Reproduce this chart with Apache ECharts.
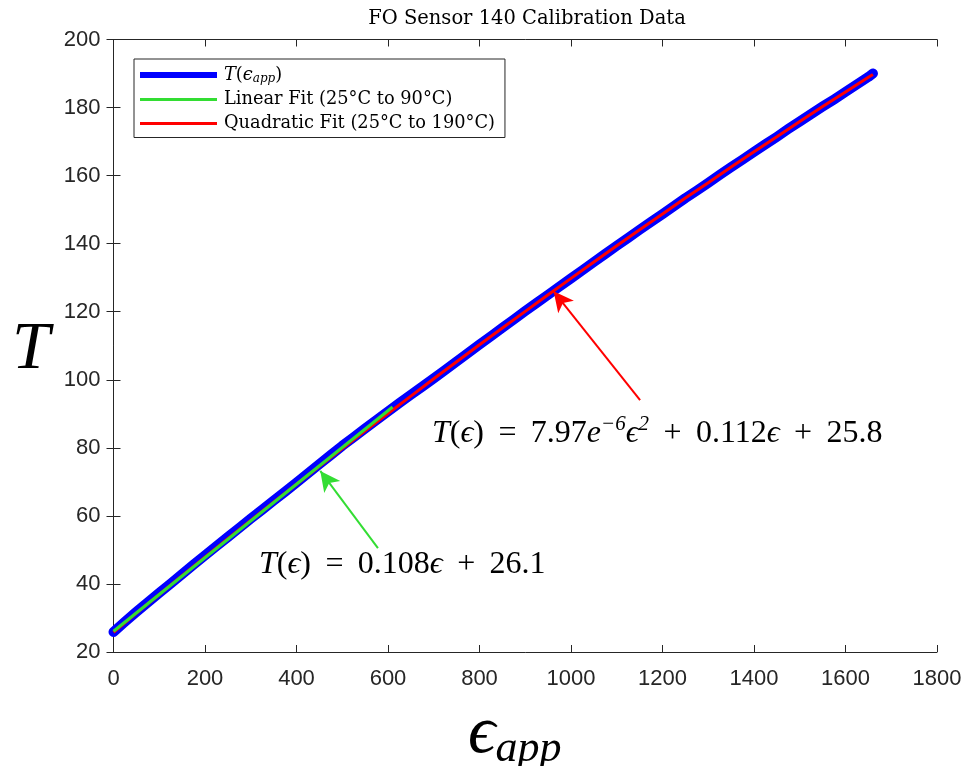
<!DOCTYPE html>
<html><head><meta charset="utf-8">
<script src="https://cdn.jsdelivr.net/npm/echarts@6/dist/echarts.min.js"></script>
<style>html,body{margin:0;padding:0;background:#fff}#c{width:966px;height:766px}</style>
</head><body><div id="c"></div>
<script>
// Measured data T(eps_app)
const epsData = [0,25,50,75,100,125,150,175,200,225,250,275,300,325,350,375,400,425,450,475,500,525,550,575,600,625,650,675,700,725,750,775,800,825,850,875,900,925,950,975,1000,1025,1050,1075,1100,1125,1150,1175,1200,1225,1250,1275,1300,1325,1350,1375,1400,1425,1450,1475,1500,1525,1550,1575,1600,1625,1650,1660];
const tData = [25.9,28.9,31.8,34.6,37.4,40.1,42.9,45.7,48.4,51.1,53.8,56.5,59.2,61.8,64.5,67.1,69.8,72.5,75.2,77.9,80.6,83.1,85.7,88.2,90.7,93.2,95.6,98.0,100.4,102.9,105.4,107.9,110.4,112.8,115.3,117.7,120.2,122.6,125.0,127.4,129.8,132.2,134.6,137.0,139.4,141.7,144.1,146.4,148.7,151.0,153.4,155.6,157.9,160.2,162.5,164.7,167.0,169.2,171.4,173.7,175.9,178.1,180.3,182.4,184.6,186.8,189.0,190.0];
// Linear fit (25°C to 90°C)
const linEps = [0, 610];
const linT = [26.1, 92.0];
// Quadratic fit (25°C to 190°C)
const quadEps = [0,50,100,150,200,250,300,350,400,450,500,550,600,650,700,750,800,850,900,950,1000,1050,1100,1150,1200,1250,1300,1350,1400,1450,1500,1550,1600,1650,1660];
const quadT = [25.8,31.4,36.9,42.4,47.9,53.3,58.7,64.0,69.3,74.6,79.8,85.0,90.1,95.2,100.3,105.3,110.3,115.2,120.1,125.0,129.8,134.6,139.4,144.1,148.7,153.4,157.9,162.5,167.0,171.4,175.9,180.3,184.6,188.9,189.7];
// Arrows (data coords: [from, to])
const redArrow = [[1151, 94.0], [962, 126.0]];
const greenArrow = [[578, 50.5], [452, 73.2]];
// Axis ticks
const xTicks = {min: 0, max: 1800, interval: 200};
const yTicks = {min: 20, max: 200, interval: 20};
const titleText = 'FO Sensor 140 Calibration Data';
const legendNames = ['T(ϵapp)', 'Linear Fit (25°C to 90°C)', 'Quadratic Fit (25°C to 190°C)'];

const pairs = (xs, ys) => xs.map((x, i) => [x, ys[i]]);
const arrowLine = (a, color) => ({
  silent: true, symbol: ['none', 'arrow'], symbolSize: [15, 20], animation: false,
  label: {show: false}, emphasis: {disabled: true},
  lineStyle: {color: color, width: 2, type: 'solid', opacity: 1},
  data: [[{coord: a[0]}, {coord: a[1]}]]
});
const serif = 'Liberation Serif';
const dserif = 'DejaVu Serif';
const axCol = '#262626';
const hs = ' \u2009';
const chart = echarts.init(document.getElementById('c'), null, {renderer: 'canvas'});
const baseAxis = {
  axisLine: {show: true, lineStyle: {color: axCol, width: 1}},
  axisTick: {show: true, inside: true, length: 7, lineStyle: {color: axCol}},
  splitLine: {show: false}
};
chart.setOption({
  animation: false,
  backgroundColor: '#fff',
  title: {text: titleText, left: 522, textAlign: 'center', top: 4,
    textStyle: {fontFamily: dserif, fontSize: 19.5, fontWeight: 'normal', color: '#000'}},
  grid: {left: 113.5, right: 29, top: 39.5, bottom: 114, outerBoundsMode: 'none', containLabel: false},
  legend: {
    orient: 'vertical', left: 134, top: 59, itemWidth: 77, itemHeight: 10, itemGap: 6,
    padding: [7, 10, 5, 6], borderColor: axCol, borderWidth: 1, backgroundColor: '#fff',
    symbolKeepAspect: true,
    data: [
      {name: legendNames[0], icon: 'path://M0,0H77V6H0Z', itemStyle: {color: '#0000ff'}},
      {name: legendNames[1], icon: 'path://M0,0H77V3H0Z', itemStyle: {color: '#33dd33'}},
      {name: legendNames[2], icon: 'path://M0,0H77V3H0Z', itemStyle: {color: '#ff0000'}}
    ],
    formatter: n => n === legendNames[0] ? '{i|T}{n|(}{i|ϵ}{s|app}{n|)}' : '{n|' + n + '}',
    textStyle: {fontFamily: dserif, fontSize: 17.8, color: '#000', padding: [0, 0, 0, 2],
      rich: {n: {fontFamily: dserif, fontSize: 17.8, color: '#000'},
             i: {fontFamily: dserif, fontStyle: 'italic', fontSize: 17.8, color: '#000'},
             s: {fontFamily: dserif, fontStyle: 'italic', fontSize: 12, color: '#000', padding: [7, 0, 0, 0]}}}
  },
  xAxis: [
    Object.assign({}, baseAxis, {type: 'value', position: 'bottom', min: xTicks.min, max: xTicks.max, interval: xTicks.interval,
      axisLabel: {color: axCol, fontFamily: 'Liberation Sans', fontSize: 22, margin: 16, formatter: v => String(v)}}),
    Object.assign({}, baseAxis, {type: 'value', position: 'top', min: xTicks.min, max: xTicks.max, interval: xTicks.interval,
      axisLabel: {show: false}})
  ],
  yAxis: [
    Object.assign({}, baseAxis, {type: 'value', position: 'left', min: yTicks.min, max: yTicks.max, interval: yTicks.interval,
      axisLabel: {color: axCol, fontFamily: 'Liberation Sans', fontSize: 22, margin: 13, formatter: v => String(v)}}),
    Object.assign({}, baseAxis, {type: 'value', position: 'right', min: yTicks.min, max: yTicks.max, interval: yTicks.interval,
      axisLabel: {show: false}})
  ],
  series: [
    {name: legendNames[0], type: 'line', data: pairs(epsData, tData), showSymbol: false, symbol: 'none',
     lineStyle: {color: '#0000ff', width: 10, cap: 'round', join: 'round'}, itemStyle: {color: '#0000ff'}, z: 2},
    {name: legendNames[1], type: 'line', data: pairs(linEps, linT), showSymbol: false, symbol: 'none',
     lineStyle: {color: '#33dd33', width: 3}, itemStyle: {color: '#33dd33'}, z: 4,
     markLine: arrowLine(greenArrow, '#33dd33')},
    {name: legendNames[2], type: 'line', data: pairs(quadEps, quadT), showSymbol: false, symbol: 'none',
     lineStyle: {color: '#ff0000', width: 3}, itemStyle: {color: '#ff0000'}, z: 3,
     markLine: arrowLine(redArrow, '#ff0000')}
  ],
  graphic: [
    // y-axis name
    {type: 'text', left: 12, top: 316, z: 10, style: {text: 'T', fontFamily: serif, fontStyle: 'italic', fontSize: 68, fill: '#000'}},
    // x-axis name
    {type: 'text', left: 468, top: 700, z: 10, style: {
      text: '{e|ϵ}{s|app}',
      rich: {e: {fontFamily: serif, fontStyle: 'italic', fontSize: 68, fill: '#000'},
             s: {fontFamily: serif, fontStyle: 'italic', fontSize: 44, fill: '#000', padding: [30, 0, 0, 0]}}}},
    {type: 'text', left: 432, top: 414, z: 10, style: {
      text: '{i|T}{m|(}{i|ϵ}{m|)' + hs + '=' + hs + '7.97}{i|e}{sup|−6}{i|ϵ}{sup|2}{m|' + hs + '+' + hs + '0.112}{i|ϵ}{m|' + hs + '+' + hs + '25.8}',
      rich: {m: {fontFamily: serif, fontSize: 32, fill: '#000'},
             i: {fontFamily: serif, fontStyle: 'italic', fontSize: 32, fill: '#000'},
             sup: {fontFamily: serif, fontStyle: 'italic', fontSize: 21, fill: '#000', padding: [0, 0, 18, 0]}}}},
    {type: 'text', left: 259, top: 549, z: 10, style: {
      text: '{i|T}{m|(}{i|ϵ}{m|)' + hs + '=' + hs + '0.108}{i|ϵ}{m|' + hs + '+' + hs + '26.1}',
      rich: {m: {fontFamily: serif, fontSize: 32, fill: '#000'},
             i: {fontFamily: serif, fontStyle: 'italic', fontSize: 32, fill: '#000'}}}}
  ]
});
</script></body></html>
